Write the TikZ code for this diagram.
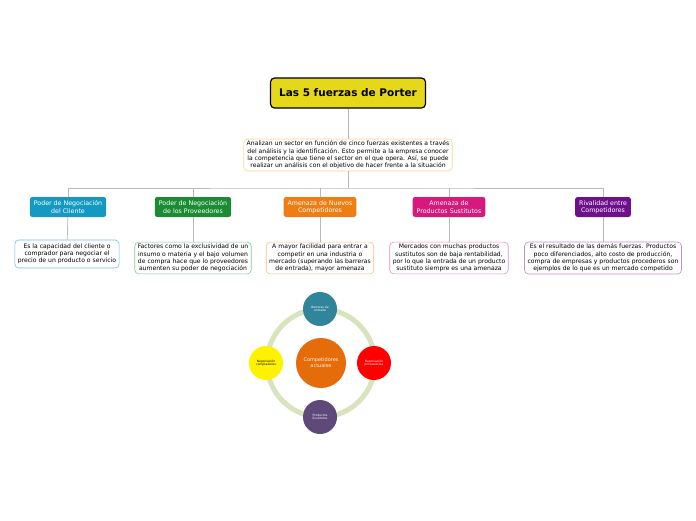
\documentclass[tikz,border=0pt]{standalone}
\usepackage{fontspec}
\setmainfont{DejaVu Sans}
\begin{document}
\begin{tikzpicture}[x=1pt,y=-1pt,
 cat/.style={rounded corners=2.5pt,text=white,align=center,font=\fontsize{6.3}{7.3}\selectfont,minimum height=20pt,inner xsep=4pt,inner ysep=1pt,drop shadow/.style={}},
 det/.style={draw,rounded corners=4pt,fill=white,align=center,font=\fontsize{6.1}{7.3}\selectfont,minimum height=28pt,inner xsep=3pt,inner ysep=2pt,line width=0.6pt},
 ln/.style={draw=gray!55,line width=0.7pt},
 sc/.style={circle,minimum size=34pt,inner sep=0pt,align=center,font=\fontsize{3}{3.6}\selectfont}]
\useasboundingbox[fill=white] (0,0) rectangle (696,520);
\definecolor{c1}{HTML}{1499C2}\definecolor{c2}{HTML}{1B8B34}\definecolor{c3}{HTML}{EE7D14}
\definecolor{c4}{HTML}{D6197D}\definecolor{c5}{HTML}{6E0F8C}
\node[draw=black,line width=1.2pt,fill={rgb,255:red,229;green,216;blue,27},rounded corners=4pt,minimum width=155pt,minimum height=30pt,font=\bfseries\fontsize{10.5}{12}\selectfont] (t) at (348,93) {Las 5 fuerzas de Porter};
\node[det,draw={rgb,255:red,250;green,215;blue,150}] (d) at (348,155) {Analizan un sector en función de cinco fuerzas existentes a través\\del análisis y la identificación. Esto permite a la empresa conocer\\la competencia que tiene el sector en el que opera. Así, se puede\\realizar un análisis con el objetivo de hacer frente a la situación};
\node[cat,fill=c1] (a1) at (68,207) {Poder de Negociación\\del Cliente};
\node[cat,fill=c2] (a2) at (193,207) {Poder de Negociación\\de los Proveedores};
\node[cat,fill=c3] (a3) at (320,207) {Amenaza de Nuevos\\Competidores};
\node[cat,fill=c4] (a4) at (449,207) {Amenaza de\\Productos Sustitutos};
\node[cat,fill=c5] (a5) at (603,207) {Rivalidad entre\\Competidores};
\node[det,draw=c1!60] (b1) at (67,254) {Es la capacidad del cliente o\\comprador para negociar el\\precio de un producto o servicio};
\node[det,draw=c2!50] (b2) at (193,258) {Factores como la exclusividad de un\\insumo o materia y el bajo volumen\\de compra hace que lo proveedores\\aumenten su poder de negociación};
\node[det,draw=c3!50] (b3) at (320,258) {A mayor facilidad para entrar a\\competir en una industria o\\mercado (superando las barreras\\de entrada), mayor amenaza};
\node[det,draw=c4!50] (b4) at (449,258) {Mercados con muchas productos\\sustitutos son de baja rentabilidad,\\por lo que la entrada de un producto\\sustituto siempre es una amenaza};
\node[det,draw=c5!45] (b5) at (603,258) {Es el resultado de las demás fuerzas. Productos\\poco diferenciados, alto costo de producción,\\compra de empresas y productos procederos son\\ejemplos de lo que es un mercado competido};
\coordinate (h) at (348,188);
\draw[ln] (t) -- (d); \draw[ln] (d) -- (h);
\draw[ln] (a1.north) |- (h) -| (a5.north);
\foreach \i in {2,3,4} \draw[ln] (a\i.north) -- (a\i.north |- h);
\foreach \i in {1,...,5} \draw[ln] (a\i) -- (b\i);
\draw[line width=5pt,color={rgb,255:red,215;green,228;blue,189}] (321,363) circle (54);
\node[circle,minimum size=50pt,fill={rgb,255:red,228;green,108;blue,10},text=white!90!orange,font=\fontsize{5}{6}\selectfont,align=center] (c) at (321,363) {Competidores\\actuales};
\node[sc,fill={rgb,255:red,49;green,133;blue,155},text=white] (n1) at (320,309) {Barreras de\\entrada};
\node[sc,fill=yellow] (n2) at (266,363) {Negociación\\compradores};
\node[sc,fill=red,text=white] (n3) at (374,363) {Negociación\\proveedores};
\node[sc,fill={rgb,255:red,95;green,73;blue,122},text=white] (n4) at (320,417) {Productos\\Sustitutos};
\end{tikzpicture}
\end{document}
